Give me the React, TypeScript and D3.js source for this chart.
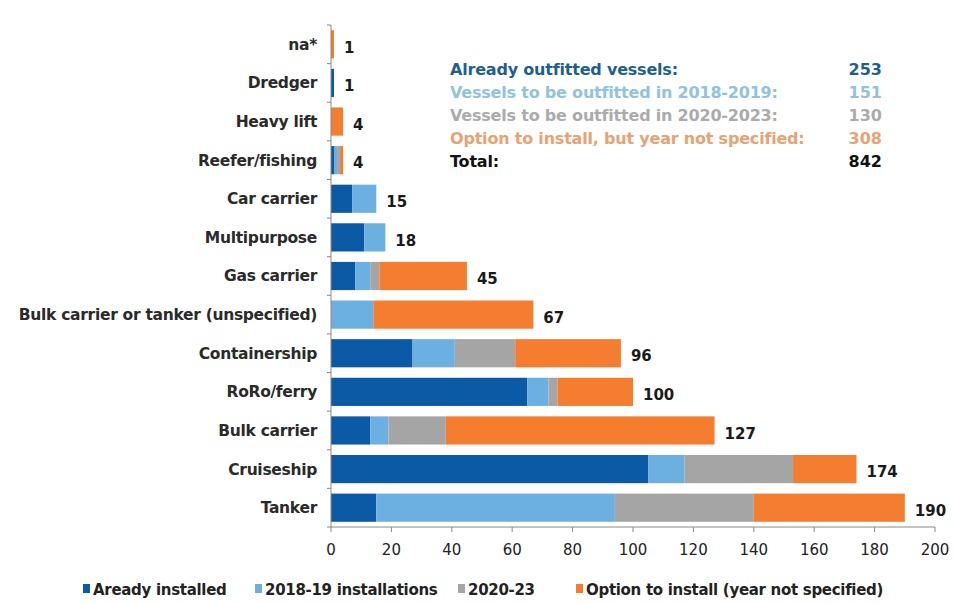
import React from "react";
import * as d3 from "d3";

const categories = ["na*", "Dredger", "Heavy lift", "Reefer/fishing", "Car carrier", "Multipurpose", "Gas carrier", "Bulk carrier or tanker (unspecified)", "Containership", "RoRo/ferry", "Bulk carrier", "Cruiseship", "Tanker"];
const alreadyInstalled = [0, 1, 0, 1, 7, 11, 8, 0, 27, 65, 13, 105, 15];
const installs2018_19 = [0, 0, 0, 1, 8, 7, 5, 14, 14, 7, 6, 12, 79];
const installs2020_23 = [0, 0, 0, 1, 0, 0, 3, 0, 20, 3, 19, 36, 46];
const optionUnspecified = [1, 0, 4, 1, 0, 0, 29, 53, 35, 25, 89, 21, 50];
const seriesNames = ["Aready installed", "2018-19 installations", "2020-23", "Option to install (year not specified)"];
const seriesColors = ["#0b5aa5", "#6cafe1", "#a5a5a5", "#f47d30"];
const xTicks = [0, 20, 40, 60, 80, 100, 120, 140, 160, 180, 200];
const summaryLabels = ["Already outfitted vessels:", "Vessels to be outfitted in 2018-2019:", "Vessels to be outfitted in 2020-2023:", "Option to install, but year not specified:", "Total:"];
const summaryValues = ["253", "151", "130", "308", "842"];
const summaryColors = ["#1e5f91", "#8fc3e0", "#ababab", "#e9a274", "#111111"];

export default function App() {
  const W = 955, H = 603;
  const left = 331, right = 935, top = 25, bottom = 527;
  const x = d3.scaleLinear().domain([0, 200]).range([left, right]);
  const y = d3.scaleBand().domain(categories).range([top, bottom]).paddingInner(0.27).paddingOuter(0.135);
  const series = [alreadyInstalled, installs2018_19, installs2020_23, optionUnspecified];
  const rows = categories.map((c, i) => {
    const o: any = { cat: c };
    series.forEach((s, k) => (o["s" + k] = s[i]));
    return o;
  });
  const stack = d3.stack<any>().keys(["s0", "s1", "s2", "s3"])(rows);
  const totals = categories.map((_, i) => series.reduce((a, s) => a + s[i], 0));
  const step = (bottom - top) / categories.length;
  const font = "'DejaVu Sans', Verdana, sans-serif";
  const legendX = [83, 255, 458, 576];

  return (
    <svg width={W} height={H} style={{ position: "absolute", left: 0, top: 0, background: "#fff" }} fontFamily={font}>
      <rect width={W} height={H} fill="#fff" />
      {stack.map((layer, k) => (
        <g key={k} fill={seriesColors[k]}>
          {layer.map((d, i) =>
            d[1] - d[0] > 0 ? (
              <rect key={i} x={x(d[0])} y={y(categories[i])!} width={x(d[1]) - x(d[0])} height={y.bandwidth()} />
            ) : null
          )}
        </g>
      ))}
      {/* y axis */}
      <line x1={left} x2={left} y1={top} y2={bottom} stroke="#888" strokeWidth={1} />
      {d3.range(categories.length + 1).map((i) => (
        <line key={i} x1={left - 4} x2={left} y1={top + i * step} y2={top + i * step} stroke="#888" />
      ))}
      {/* x axis */}
      <line x1={left} x2={right} y1={bottom} y2={bottom} stroke="#888" />
      {xTicks.map((t) => (
        <g key={t}>
          <line x1={x(t)} x2={x(t)} y1={bottom} y2={bottom + 5} stroke="#888" />
          <text x={x(t)} y={bottom + 28} textAnchor="middle" fontSize={15} fill="#222">{t}</text>
        </g>
      ))}
      {categories.map((c, i) => (
        <text key={c} x={left - 14} y={y(c)! + y.bandwidth() / 2} dy="0.35em" textAnchor="end" fontSize={15.5} fontWeight="bold" fill="#2a2a2a" letterSpacing={-0.3}>{c}</text>
      ))}
      {categories.map((c, i) => (
        <text key={c + "v"} x={x(totals[i]) + 10} y={y(c)! + y.bandwidth() / 2 + 3} dy="0.35em" fontSize={15} fontWeight="bold" fill="#1a1a1a">{totals[i]}</text>
      ))}
      {summaryLabels.map((s, i) => (
        <g key={s} fontWeight="bold" fontSize={16} fill={summaryColors[i]}>
          <text x={450} y={75 + i * 23} letterSpacing={-0.2}>{s}</text>
          <text x={882} y={75 + i * 23} textAnchor="end">{summaryValues[i]}</text>
        </g>
      ))}
      {seriesNames.map((n, k) => (
        <g key={n}>
          <rect x={legendX[k]} y={584} width={7} height={9} fill={seriesColors[k]} />
          <text x={legendX[k] + 10} y={595} fontSize={15} fontWeight="bold" fill="#222" letterSpacing={-0.3}>{n}</text>
        </g>
      ))}
    </svg>
  );
}
